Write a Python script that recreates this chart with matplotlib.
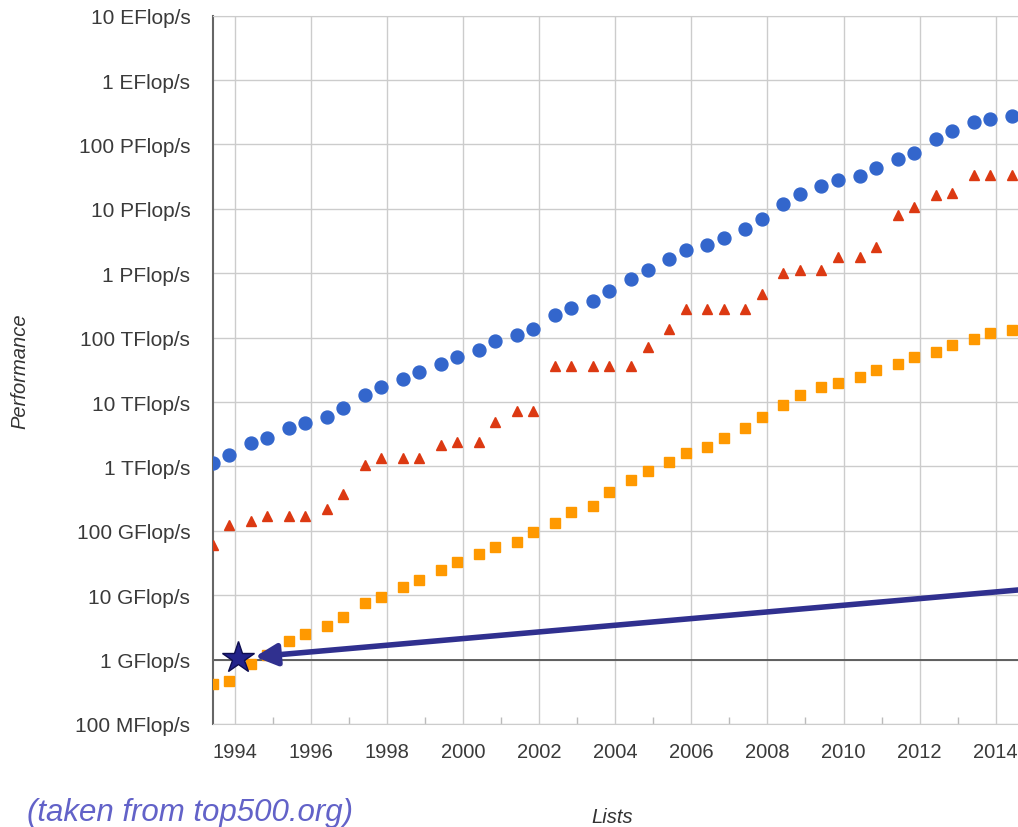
import matplotlib
matplotlib.use("Agg")
import matplotlib.pyplot as plt
import matplotlib.patheffects as pe
from matplotlib.patches import ArrowStyle
from matplotlib.ticker import FixedLocator, NullFormatter

plt.rcParams['font.family'] = ['Liberation Sans', 'DejaVu Sans']

# TOP500 lists: June (yr+0.42) and November (yr+0.85), 1993-06 .. 2014-06
years = [1993, 1993, 1994, 1994, 1995, 1995, 1996, 1996, 1997, 1997,
         1998, 1998, 1999, 1999, 2000, 2000, 2001, 2001, 2002, 2002,
         2003, 2003, 2004, 2004, 2005, 2005, 2006, 2006, 2007, 2007,
         2008, 2008, 2009, 2009, 2010, 2010, 2011, 2011, 2012, 2012,
         2013, 2013, 2014]
months = ['Jun', 'Nov'] * 21 + ['Jun']

# Values in GFlop/s
sum_perf = [1128, 1493, 2317, 2732, 3922, 4781, 5947, 7998, 12748, 17101,
            22597, 29379, 39100, 50965, 64236, 88105, 108598, 134367, 222179, 293180,
            374930, 528900, 812900, 1127000, 1690000, 2300000, 2790000, 3530000, 4920000, 6970000,
            11700000, 16950000, 22600000, 27950000, 32400000, 43700000, 58900000, 74200000, 123000000, 162000000,
            223000000, 250000000, 274000000]
n1_perf = [59.7, 124.5, 143.4, 170.4, 170.4, 170.4, 220.4, 368.2, 1068, 1338,
           1338, 1338, 2121, 2379, 2379, 4938, 7226, 7226, 35860, 35860,
           35860, 35860, 35860, 70720, 136800, 280600, 280600, 280600, 280600, 478200,
           1026000, 1105000, 1105000, 1759000, 1759000, 2566000, 8162000, 10510000, 16320000, 17590000,
           33860000, 33860000, 33860000]
n500_perf = [0.42, 0.47, 0.84, 1.2, 1.96, 2.49, 3.3, 4.6, 7.7, 9.5,
             13.3, 17.1, 24.7, 33.1, 43.8, 55.1, 67.8, 94.3, 134.3, 195.8,
             245.1, 403.4, 624, 851, 1166, 1646, 2026, 2737, 4005, 5929,
             9000, 12640, 17090, 20050, 24670, 31120, 39090, 50940, 60820, 76500,
             96620, 117800, 133700]

ytick_vals = [1e8, 1e9, 1e10, 1e11, 1e12, 1e13, 1e14, 1e15, 1e16, 1e17, 1e18, 1e19]
ytick_labels = ['100 MFlop/s', '1 GFlop/s', '10 GFlop/s', '100 GFlop/s', '1 TFlop/s',
                '10 TFlop/s', '100 TFlop/s', '1 PFlop/s', '10 PFlop/s', '100 PFlop/s',
                '1 EFlop/s', '10 EFlop/s']
xtick_years = [1994, 1996, 1998, 2000, 2002, 2004, 2006, 2008, 2010, 2012, 2014]

star_point = (1994.1, 1.05e9)      # annotated point (1 GFlop/s, 1994)
arrow_tail = (2014.75, 1.23e10)

offset = {'Jun': 0.42, 'Nov': 0.85}
x = [y + offset[m] for y, m in zip(years, months)]
to_flops = lambda lst: [v * 1e9 for v in lst]

fig = plt.figure(figsize=(10.18, 8.28), dpi=100)
ax = fig.add_axes([212.5 / 1018, 1 - 725 / 828, 1 - 212.5 / 1018, (725 - 16.7) / 828])
ax.set_yscale('log')
ax.set_ylim(1e8, 1e19)
ax.set_xlim(1993.42, 1993.42 + (1018 - 212.5) / 38.06)

ax.plot(x, to_flops(sum_perf), 'o', color='#3366cc', ms=9.3, mec='#3366cc', zorder=3)
ax.plot(x, to_flops(n1_perf), '^', color='#dc3912', ms=7.5, mec='#dc3912', zorder=3)
ax.plot(x, to_flops(n500_perf), 's', color='#ff9900', ms=6.5, mec='#ff9900', zorder=3)

ax.yaxis.set_major_locator(FixedLocator(ytick_vals))
ax.yaxis.set_minor_locator(FixedLocator([]))
ax.set_yticklabels(ytick_labels)
ax.yaxis.set_minor_formatter(NullFormatter())
ax.xaxis.set_major_locator(FixedLocator(xtick_years))
ax.xaxis.set_minor_locator(FixedLocator([y + 1 for y in xtick_years]))
ax.set_xticklabels([str(v) for v in xtick_years])

ax.grid(True, which='major', color='#cccccc', lw=1.0, zorder=0)
ax.set_axisbelow(True)
ax.tick_params(axis='y', which='major', length=0, pad=16, labelsize=15, labelcolor='#3a3a3a')
ax.tick_params(axis='x', which='major', length=0, pad=13, labelsize=14.5, labelcolor='#3a3a3a')
ax.tick_params(axis='x', which='minor', direction='in', length=5, width=1, color='#bbbbbb')

ax.spines['left'].set_color('#666666')
ax.spines['left'].set_linewidth(1.5)
ax.spines['bottom'].set_color('#cccccc')
ax.spines['top'].set_color('#cccccc')
ax.spines['right'].set_visible(False)

ax.axhline(1e9, color='#555555', lw=1.3, zorder=1)

ax.annotate('', xy=star_point, xytext=arrow_tail, xycoords='data', textcoords='data',
            annotation_clip=False,
            arrowprops=dict(arrowstyle=ArrowStyle('-|>', head_length=13, head_width=6.5),
                            mutation_scale=1,
                            color='#30308f', lw=4.0, shrinkA=0, shrinkB=12,
                            path_effects=[pe.withSimplePatchShadow(offset=(2, -2),
                                                                   shadow_rgbFace='#888888', alpha=0.35)]),
            zorder=5)
ax.plot([star_point[0]], [star_point[1]], marker='*', ms=24, color='#23238a',
        mec='#0e0e50', mew=1.0, clip_on=False, zorder=6)

fig.text(20 / 1018, 1 - 371 / 828, 'Performance', rotation=90, ha='center', va='center',
         fontsize=14.5, style='italic', color='#333333')
fig.text(612 / 1018, 1 - 818 / 828, 'Lists', ha='center', va='center',
         fontsize=14.5, style='italic', color='#333333')
fig.text(27 / 1018, 1 - 821 / 828, '(taken from top500.org)', ha='left', va='baseline',
         fontsize=22.5, style='italic', color='#6262c8')

fig.savefig('out.png', dpi=100)
